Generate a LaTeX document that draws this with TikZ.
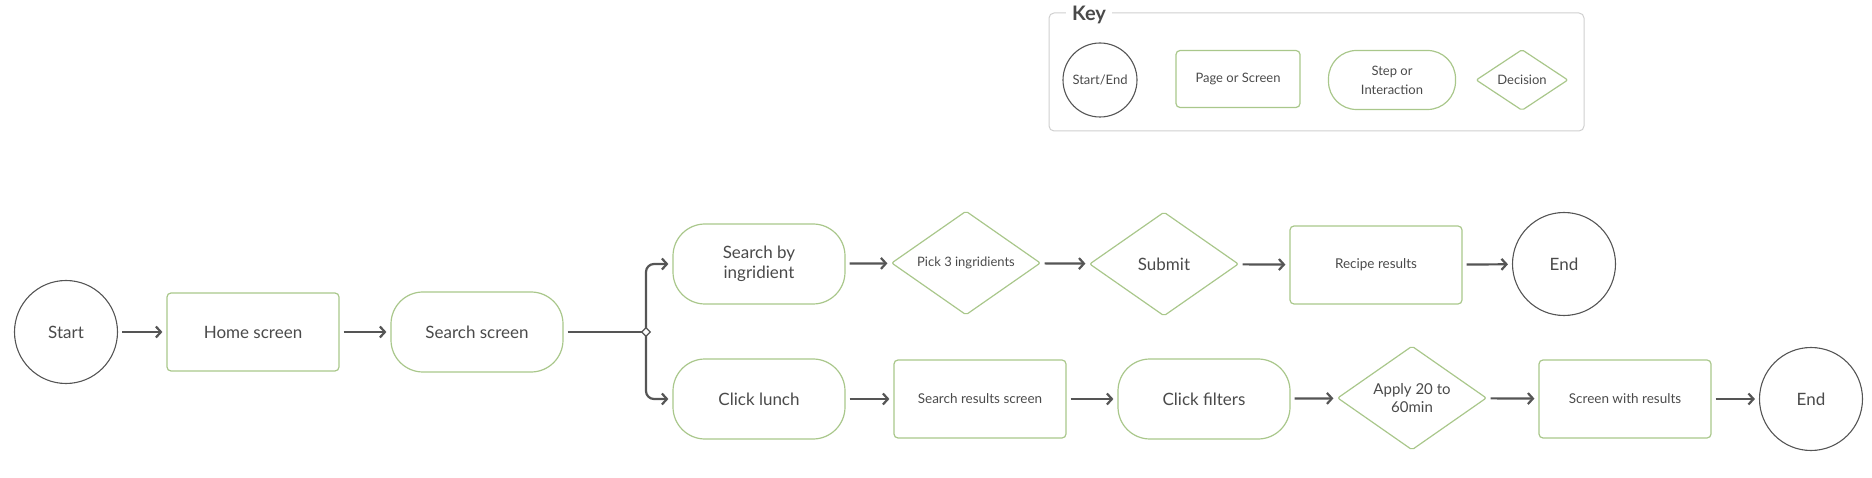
\documentclass[tikz,border=0pt]{standalone}
\usepackage{fontspec}
\setmainfont{Lato}
\usetikzlibrary{shapes.geometric,arrows.meta}
\definecolor{grn}{HTML}{A9C78B}
\definecolor{txt}{HTML}{4A4A4A}
\definecolor{ln}{HTML}{555555}
\definecolor{keyb}{HTML}{CFCFCF}
\newcommand{\fsz}[2]{\fontsize{#1}{#2}\selectfont}
\begin{document}
\begin{tikzpicture}[x=1pt,y=-1pt,
  every node/.style={text=txt, font=\fsz{17}{20}, align=center},
  se/.style={circle, draw=ln, line width=1.1pt, minimum size=103pt, inner sep=0pt},
  pg/.style={rectangle, rounded corners=4pt, draw=grn, line width=1.2pt, minimum width=172pt, minimum height=78pt},
  stp/.style={rectangle, rounded corners=32pt, draw=grn, line width=1.2pt, minimum width=172pt, minimum height=80pt},
  dec/.style={diamond, aspect=1.43, draw=grn, line width=1.2pt, minimum width=149pt, minimum height=104pt, inner sep=0pt, rounded corners=2pt},
  arr/.style={draw=ln, line width=2.2pt, -{Straight Barb[length=5pt,width=11pt]}, shorten <=4pt, shorten >=4pt},
  small/.style={font=\fsz{13.5}{16}},
  keytxt/.style={font=\fsz{13}{19}}
]
\useasboundingbox (0,0) rectangle (1872,478);

% Key
\draw[draw=keyb, line width=1pt, rounded corners=5pt] (1049,13) rectangle (1584,131);
\node[fill=white, inner xsep=6pt, inner ysep=0pt, font=\fsz{20}{24}\bfseries] (key) at (1089,15) {Key};
\node[se, minimum size=74pt, keytxt] (kse) at (1100,80) {Start/End};
\node[pg, minimum width=124pt, minimum height=57pt, keytxt] (kpg) at (1238,79) {Page or Screen};
\node[stp, minimum width=127pt, minimum height=59pt, rounded corners=28pt, keytxt] (kstp) at (1392,80) {Step or\\Interaction};
\node[dec, aspect=1.5, minimum width=92pt, minimum height=61pt, keytxt] (kdec) at (1522,80) {Decision};

% Main flow
\node[se] (start) at (66,332) {Start};
\node[pg] (home) at (253,332) {Home screen};
\node[stp] (search) at (477,332) {Search screen};
\coordinate (junc) at (646,332);

\node[stp] (sbi) at (759,264) {Search by\\ingridient};
\node[dec, font=\fsz{13}{16}] (pick) at (966,263) {Pick 3 ingridients};
\node[dec] (submit) at (1164,264) {Submit};
\node[pg, small] (recipe) at (1376,265) {Recipe results};
\node[se] (end1) at (1564,264) {End};

\node[stp] (lunch) at (759,399) {Click lunch};
\node[pg, small] (srs) at (980,399) {Search results screen};
\node[stp] (filters) at (1204,399) {Click filters};
\node[dec, font=\fsz{15}{18}] (apply) at (1412,398) {Apply 20 to\\60min};
\node[pg, small] (swr) at (1625,399) {Screen with results};
\node[se] (end2) at (1811,399) {End};

% Connectors
\draw[arr] (start) -- (home);
\draw[arr] (home) -- (search);
\draw[draw=ln, line width=2.2pt, shorten <=4pt] (search.east) -- (junc);
\draw[arr, shorten <=0pt, rounded corners=8pt] (junc) |- (sbi.west);
\draw[arr, shorten <=0pt, rounded corners=8pt] (junc) |- (lunch.west);
\node[diamond, draw=ln, fill=white, line width=1.2pt, minimum size=9pt, inner sep=0pt] (jd) at (junc) {};

\draw[arr] (sbi) -- (pick);
\draw[arr] (pick) -- (submit);
\draw[arr] (submit) -- (recipe);
\draw[arr] (recipe) -- (end1);

\draw[arr] (lunch) -- (srs);
\draw[arr] (srs) -- (filters);
\draw[arr] (filters) -- (apply);
\draw[arr] (apply) -- (swr);
\draw[arr] (swr) -- (end2);
\end{tikzpicture}
\end{document}
